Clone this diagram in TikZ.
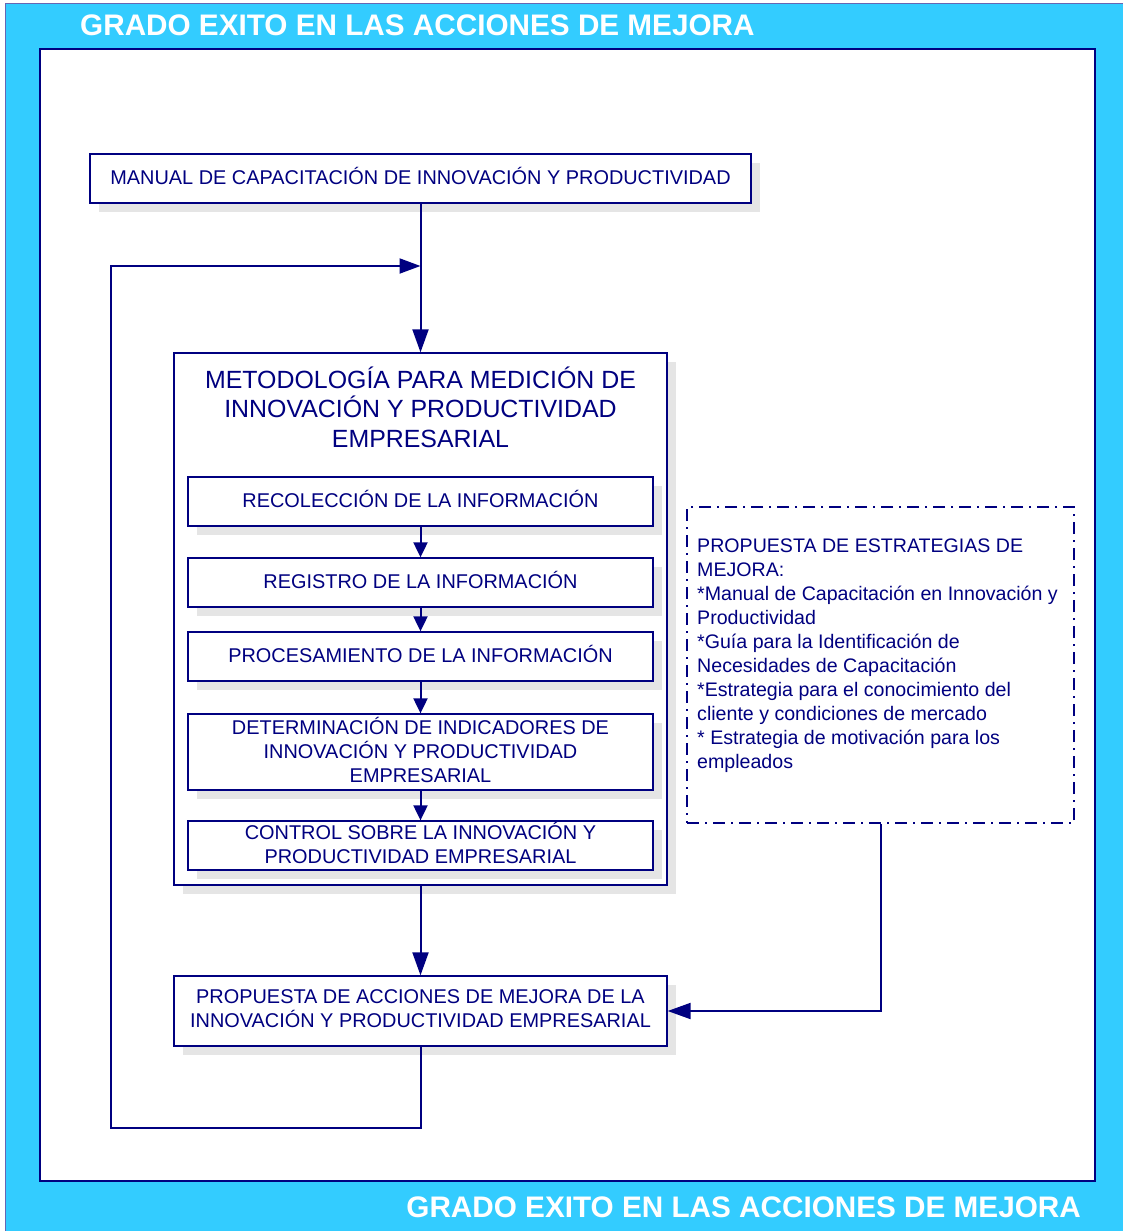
\documentclass[tikz,border=0pt]{standalone}
\usepackage{fontspec}
\setmainfont{Liberation Sans}
\usetikzlibrary{arrows.meta,shadows}
\definecolor{navyblue}{RGB}{0,0,128}
\definecolor{framecyan}{RGB}{51,204,255}
\definecolor{shadowgray}{RGB}{229,229,229}
\begin{document}
\begin{tikzpicture}[x=1pt,y=-1pt,
  every node/.style={text=navyblue},
  shadowed/.style={general shadow={fill=shadowgray, shadow xshift=9pt, shadow yshift=-9pt}},
  stepbox/.style={draw=navyblue, line width=1.3pt, fill=white, shadowed,
    font=\fontsize{19.9}{24}\selectfont, align=center, inner sep=0pt, text depth=5pt},
  conn/.style={draw=navyblue, line width=2pt},
  bigarrow/.style={conn, -{Triangle[length=23pt,width=16pt]}},
  smallarrow/.style={conn, -{Triangle[length=15pt,width=14pt]}},
  headline/.style={text=white, font=\fontsize{29.7}{34}\selectfont\bfseries, inner sep=0pt}]
\useasboundingbox (0,0) rectangle (1122,1231);
% outer frame
\fill[framecyan] (5,3) rectangle (1130,1240);
\draw[navyblue!60, line width=1pt] (5.5,1240) -- (5.5,3.5) -- (1130,3.5);
\draw[navyblue, line width=1.3pt, fill=white] (40,49) rectangle (1095,1181);
\node[headline, anchor=west] (headtop) at (80,25) {GRADO EXITO EN LAS ACCIONES DE MEJORA};
\node[headline, anchor=east] (headbot) at (1081,1207) {GRADO EXITO EN LAS ACCIONES DE MEJORA};

% main flow
\node[stepbox, minimum width=661pt, minimum height=49pt] (manual) at (420.5,178.5)
  {MANUAL DE CAPACITACIÓN DE INNOVACIÓN Y PRODUCTIVIDAD};
\node[stepbox, minimum width=493pt, minimum height=532pt] (metodo) at (420.5,619) {};
\node[font=\fontsize{24.9}{29.5}\selectfont, align=center, inner sep=0pt] (metodotitle) at (420.5,407)
  {METODOLOGÍA PARA MEDICIÓN DE\\INNOVACIÓN Y PRODUCTIVIDAD\\EMPRESARIAL};
\node[stepbox, minimum width=465pt, minimum height=49pt] (recol) at (420.5,501.5)
  {RECOLECCIÓN DE LA INFORMACIÓN};
\node[stepbox, minimum width=465pt, minimum height=49pt] (regis) at (420.5,582.5)
  {REGISTRO DE LA INFORMACIÓN};
\node[stepbox, minimum width=465pt, minimum height=49pt] (proces) at (420.5,656.5)
  {PROCESAMIENTO DE LA INFORMACIÓN};
\node[stepbox, minimum width=465pt, minimum height=76pt] (determ) at (420.5,752)
  {DETERMINACIÓN DE INDICADORES DE\\INNOVACIÓN Y PRODUCTIVIDAD\\EMPRESARIAL};
\node[stepbox, minimum width=465pt, minimum height=49pt] (control) at (420.5,845.5)
  {CONTROL SOBRE LA INNOVACIÓN Y\\PRODUCTIVIDAD EMPRESARIAL};
\node[stepbox, minimum width=493pt, minimum height=70pt] (propuesta) at (420.5,1011)
  {PROPUESTA DE ACCIONES DE MEJORA DE LA\\INNOVACIÓN Y PRODUCTIVIDAD EMPRESARIAL};

% strategies box
\node[draw=navyblue, line width=1.6pt, dash pattern=on 12pt off 6pt on 2pt off 6pt,
  minimum width=387pt, minimum height=316pt, inner sep=0pt] (estrat) at (880.5,665) {};
\node[anchor=west, align=left, inner sep=0pt, font=\fontsize{19.6}{24}\selectfont] (estrattext) at (697,655.5)
  {PROPUESTA DE ESTRATEGIAS DE\\MEJORA:\\*Manual de Capacitación en Innovación y\\Productividad\\*Guía para la Identificación de\\Necesidades de Capacitación\\*Estrategia para el conocimiento del\\cliente y condiciones de mercado\\* Estrategia de motivación para los\\empleados};

% connectors
\draw[bigarrow] (manual.south) -- (metodo.north);
\draw[smallarrow] (recol.south) -- (regis.north);
\draw[smallarrow] (regis.south) -- (proces.north);
\draw[smallarrow] (proces.south) -- (determ.north);
\draw[smallarrow] (determ.south) -- (control.north);
\draw[bigarrow] (metodo.south) -- (propuesta.north);
\coordinate (loopbottom) at (111,1128);
\coordinate (looptop) at (111,266);
\coordinate (loopjoin) at (420.5,266);
\draw[conn, -{Triangle[length=21pt,width=15pt]}] (propuesta.south) |- (loopbottom) -- (looptop) -- (loopjoin);
\draw[bigarrow] (estrat.south) |- (propuesta.east);
\end{tikzpicture}
\end{document}
